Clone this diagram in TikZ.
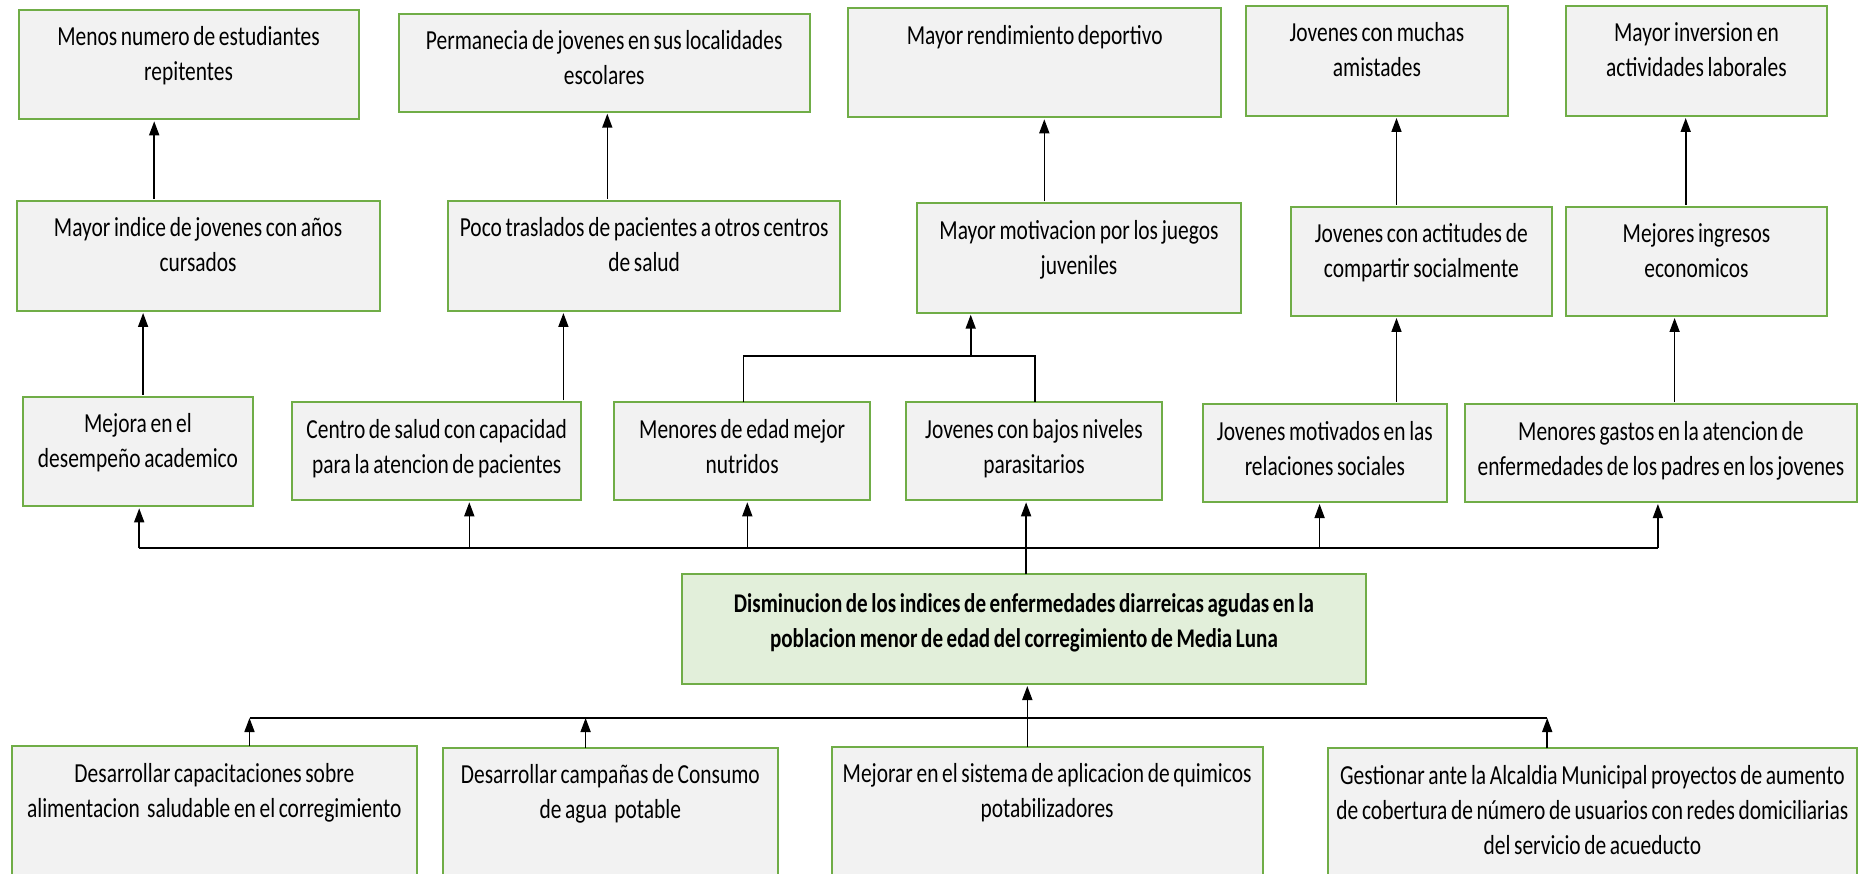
\documentclass[tikz,border=0pt]{standalone}
\usepackage{fontspec}
\setmainfont{Carlito}[FakeStretch=0.78,WordSpace=0.75]
\usetikzlibrary{arrows.meta,calc}
\definecolor{bgreen}{HTML}{70AD47}
\definecolor{bgray}{HTML}{F2F2F2}
\definecolor{lgreen}{HTML}{E2EFDA}
\tikzset{
  boxst/.style={draw=bgreen, line width=2pt, fill=bgray, inner sep=0pt, outer sep=0pt},
  goalst/.style={boxst, fill=lgreen},
  txt/.style={inner sep=0pt, outer sep=0pt, align=center, font={\fontsize{27.5pt}{35pt}\selectfont}, text=black},
  goaltxt/.style={txt, font={\fontsize{27pt}{35pt}\selectfont\bfseries}},
  arr/.style={line width=1.6pt, -{Triangle[length=14pt,width=10pt]}, shorten >=2pt, shorten <=2pt},
  ln/.style={line width=1.6pt},
}
\newcommand{\mkbox}[6]{%
  \pgfmathsetmacro{\mkbW}{#4-#2}\pgfmathsetmacro{\mkbH}{#5-#3}%
  \pgfmathsetmacro{\mkbX}{(#2+#4)/2}\pgfmathsetmacro{\mkbY}{(#3+#5)/2}%
  \node[#6, minimum width=\mkbW pt, minimum height=\mkbH pt] (#1) at (\mkbX,\mkbY) {};}
\newcommand{\mktxt}[4]{\node[#4, anchor=north] (#1t) at ([yshift=-#2pt]#1.north) {\rule{0pt}{25pt}#3};}
\begin{document}
\begin{tikzpicture}[x=1pt,y=-1pt]
\path[use as bounding box] (0,0) rectangle (1864,874);
\fill[white] (0,0) rectangle (1864,874);
\clip (0,0) rectangle (1864,874);
% row 1
\mkbox{a1}{18.6}{10}{358.6}{119.3}{boxst}
\mkbox{b1}{398.6}{14}{809.8}{111.7}{boxst}
\mkbox{c1}{848.1}{8.3}{1221.4}{117.3}{boxst}
\mkbox{d1}{1246}{5.7}{1507.8}{116}{boxst}
\mkbox{e1}{1565.5}{5.7}{1827.4}{116}{boxst}
% row 2
\mkbox{a2}{16.6}{201}{379.6}{311}{boxst}
\mkbox{b2}{448.4}{201}{839.9}{311}{boxst}
\mkbox{c2}{917}{203.3}{1241}{312.7}{boxst}
\mkbox{d2}{1290.5}{207}{1552}{316}{boxst}
\mkbox{e2}{1565.5}{207}{1827.4}{316}{boxst}
% row 3
\mkbox{a3}{22.5}{396.7}{253.4}{506.3}{boxst}
\mkbox{b3}{292.2}{402.3}{581.2}{500.3}{boxst}
\mkbox{c3}{614}{402.3}{870.3}{500.3}{boxst}
\mkbox{d3}{905.9}{402.3}{1162.1}{500.3}{boxst}
\mkbox{e3}{1203.2}{404.3}{1446.6}{502}{boxst}
\mkbox{f3}{1464.5}{404.3}{1857.3}{502}{boxst}
% goal
\mkbox{g}{682.1}{574}{1365.8}{684}{goalst}
% bottom row
\mkbox{k1}{11.9}{746}{416.8}{900}{boxst}
\mkbox{k2}{442.9}{747.7}{777.8}{900}{boxst}
\mkbox{k3}{831.5}{746.7}{1262.7}{900}{boxst}
\mkbox{k4}{1327.6}{748.3}{1857.2}{900}{boxst}
% texts
\mktxt{a1}{11}{Menos numero de estudiantes\\repitentes}{txt}
\mktxt{b1}{11}{Permanecia de jovenes en sus localidades\\escolares}{txt}
\mktxt{c1}{11}{Mayor rendimiento deportivo}{txt}
\mktxt{d1}{11}{Jovenes con muchas\\amistades}{txt}
\mktxt{e1}{11}{Mayor inversion en\\actividades laborales}{txt}
\mktxt{a2}{11}{Mayor indice de jovenes con años\\cursados}{txt}
\mktxt{b2}{11}{Poco traslados de pacientes a otros centros\\de salud}{txt}
\mktxt{c2}{11}{Mayor motivacion por los juegos\\juveniles}{txt}
\mktxt{d2}{11}{Jovenes con actitudes de\\compartir socialmente}{txt}
\mktxt{e2}{11}{Mejores ingresos\\economicos}{txt}
\mktxt{a3}{11}{Mejora en el\\desempeño academico}{txt}
\mktxt{b3}{11}{Centro de salud con capacidad\\para la atencion de pacientes}{txt}
\mktxt{c3}{11}{Menores de edad mejor\\nutridos}{txt}
\mktxt{d3}{11}{Jovenes con bajos niveles\\parasitarios}{txt}
\mktxt{e3}{11}{Jovenes motivados en las\\relaciones sociales}{txt}
\mktxt{f3}{11}{Menores gastos en la atencion de\\enfermedades de los padres en los jovenes}{txt}
\mktxt{g}{13.5}{Disminucion de los indices de enfermedades diarreicas agudas en la\\poblacion menor de edad del corregimiento de Media Luna}{goaltxt}
\mktxt{k1}{11}{Desarrollar capacitaciones sobre\\alimentacion\ \ saludable en el corregimiento}{txt}
\mktxt{k2}{11}{Desarrollar campañas de Consumo\\de agua\ \ potable}{txt}
\mktxt{k3}{11}{Mejorar en el sistema de aplicacion de quimicos\\potabilizadores}{txt}
\mktxt{k4}{11}{Gestionar ante la Alcaldia Municipal proyectos de aumento\\de cobertura de número de usuarios con redes domiciliarias\\del servicio de acueducto}{txt}
% helper x positions
\coordinate (xa) at (154.2,0);
\coordinate (xb) at (607.3,0);
\coordinate (xc) at (1044.3,0);
\coordinate (xd) at (1396.5,0);
\coordinate (xe) at (1685.7,0);
\coordinate (xa3) at (143.1,0);
\coordinate (xb3) at (563.4,0);
\coordinate (xf3) at (1674.6,0);
\coordinate (brL) at (743.4,356);
\coordinate (brR) at (1034.8,356);
\coordinate (brM) at (970.7,356);
\coordinate (gx) at (1026.1,0);
\coordinate (busL) at (139.2,548);
\coordinate (busB) at (469.3,548);
\coordinate (busC) at (747.3,548);
\coordinate (busE) at (1319.6,548);
\coordinate (busR) at (1657.9,548);
\coordinate (lowL) at (249.5,718);
\coordinate (lowB) at (585.6,718);
\coordinate (lowR) at (1547.2,718);
\coordinate (gx2) at (1027.3,0);
% row 2 -> row 1
\draw[arr] (a2.north -| xa) -- (a1.south -| xa);
\draw[arr] (b2.north -| xb) -- (b1.south -| xb);
\draw[arr] (c2.north -| xc) -- (c1.south -| xc);
\draw[arr] (d2.north -| xd) -- (d1.south -| xd);
\draw[arr] (e2.north -| xe) -- (e1.south -| xe);
% row 3 -> row 2
\draw[arr] (a3.north -| xa3) -- (a2.south -| xa3);
\draw[arr] (b3.north -| xb3) -- (b2.south -| xb3);
\draw[ln] (c3.north -| brL) -- (brL) -- (brR) -- (d3.north -| brR);
\draw[arr, shorten <=0pt] (brM) -- (c2.south -| brM);
\draw[arr] (e3.north -| xd) -- (d2.south -| xd);
\draw[arr] (f3.north -| xf3) -- (e2.south -| xf3);
% goal -> row 3
\draw[arr, shorten <=0pt] (g.north -| gx) -- (d3.south -| gx);
\draw[ln] (busL) -- (busR);
\draw[arr, shorten <=0pt] (busL) -- (a3.south -| busL);
\draw[arr, shorten <=0pt] (busB) -- (b3.south -| busB);
\draw[arr, shorten <=0pt] (busC) -- (c3.south -| busC);
\draw[arr, shorten <=0pt] (busE) -- (e3.south -| busE);
\draw[arr, shorten <=0pt] (busR) -- (f3.south -| busR);
% bottom -> goal
\draw[ln] (lowL) -- (lowR);
\draw[arr, shorten <=0pt, shorten >=0pt] (k1.north -| lowL) -- (lowL);
\draw[arr, shorten <=0pt, shorten >=0pt] (k2.north -| lowB) -- (lowB);
\draw[arr, shorten <=0pt, shorten >=0pt] (k4.north -| lowR) -- (lowR);
\draw[arr, shorten <=0pt] (k3.north -| gx2) -- (g.south -| gx2);
\end{tikzpicture}
\end{document}
